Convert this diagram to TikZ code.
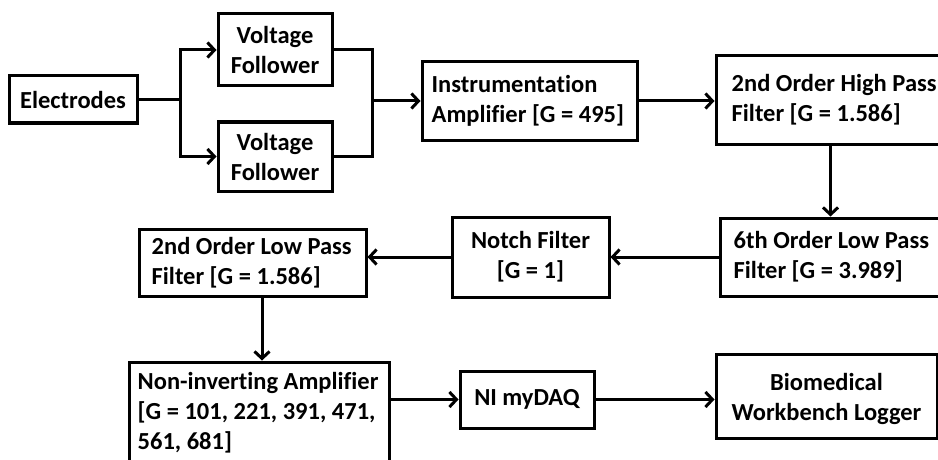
\documentclass[tikz,border=0pt]{standalone}
\usepackage{fontspec}
\setmainfont{Carlito}[Ligatures=NoCommon]
\usetikzlibrary{arrows.meta,calc}
\tikzset{
  blk/.style={draw=black, line width=3pt, inner sep=0pt},
  txt/.style={inner sep=0pt, font=\bfseries\fontsize{24.5}{30}\selectfont},
  arr/.style={line width=3pt, -{Straight Barb[length=7pt,width=15pt,line width=3pt]}},
  ln/.style={line width=3pt}
}
\begin{document}
\begin{tikzpicture}[x=1pt,y=-1pt]
\useasboundingbox (0,0) rectangle (938,460);
\clip (0,0) rectangle (938,460);
\fill[white] (0,0) rectangle (938,460);
% boxes
\node[blk, minimum width=128, minimum height=47] (E) at (73,99.5) {};
\node[blk, minimum width=114, minimum height=72] (VF1) at (275,50) {};
\node[blk, minimum width=114, minimum height=69] (VF2) at (275,156.5) {};
\node[blk, minimum width=215, minimum height=78] (IA) at (529.5,101) {};
\node[blk, minimum width=229, minimum height=88] (HP) at (830.5,100) {};
\node[blk, minimum width=225, minimum height=78] (LP6) at (832.5,257) {};
\node[blk, minimum width=157, minimum height=80] (NF) at (530.5,257) {};
\node[blk, minimum width=227, minimum height=67] (LP2) at (252.5,262.5) {};
\node[blk, minimum width=260, minimum height=102] (NIA) at (259,413) {};
\node[blk, minimum width=134, minimum height=57] (DAQ) at (527,399.5) {};
\node[blk, minimum width=221, minimum height=84] (BW) at (826.5,396) {};
% texts
\node[txt, align=center] (Et) at (E.center) {Electrodes};
\node[txt, align=center] (VF1t) at (VF1.center) {Voltage\\Follower};
\node[txt, align=center] (VF2t) at (VF2.center) {Voltage\\Follower};
\node[txt, align=left, anchor=west] (IAt) at ([xshift=11pt]IA.west) {Instrumentation\\{}Amplifier [G = 495]};
\node[txt, align=left, anchor=west] (HPt) at ([xshift=17pt]HP.west) {2nd Order High Pass\\{}Filter [G = 1.586]};
\node[txt, align=left, anchor=west] (LP6t) at ([xshift=15pt]LP6.west) {6th Order Low Pass\\{}Filter [G = 3.989]};
\node[txt, align=center] (NFt) at (NF.center) {Notch Filter\\{}{[G = 1]}};
\node[txt, align=left, anchor=west] (LP2t) at ([xshift=14pt]LP2.west) {2nd Order Low Pass\\{}Filter [G = 1.586]};
\node[txt, align=left, anchor=west] (NIAt) at ([xshift=10pt]NIA.west) {Non-inverting Amplifier\\{}{[G = 101, 221, 391, 471,}\\{}561, 681]};
\node[txt, align=center] (DAQt) at (DAQ.center) {NI myDAQ};
\node[txt, align=center] (BWt) at ([yshift=-3pt]BW.center) {Biomedical\\{}Workbench Logger};
% connectors
\coordinate (j1) at (180,99.5);
\coordinate (j2) at (372,101);
\draw[ln] (E.east) -- (j1);
\draw[arr] (j1) |- (VF1.west);
\draw[arr] (j1) |- (VF2.west);
\draw[ln] (VF1.east) -| (j2);
\draw[ln] (VF2.east) -| (j2);
\draw[arr] (j2) -- (IA.west);
\draw[arr] (IA.east) -- (IA.east -| HP.west);
\draw[arr] (HP.south) -- (HP.south |- LP6.north);
\draw[arr] (LP6.west) -- (NF.east);
\draw[arr] (NF.west) -- (NF.west -| LP2.east);
\draw[arr] ([xshift=9.5pt]LP2.south) -- ([xshift=9.5pt]LP2.south |- NIA.north);
\draw[arr] (DAQ.west -| NIA.east) -- (DAQ.west);
\draw[arr] (DAQ.east) -- (DAQ.east -| BW.west);
\end{tikzpicture}
\end{document}
